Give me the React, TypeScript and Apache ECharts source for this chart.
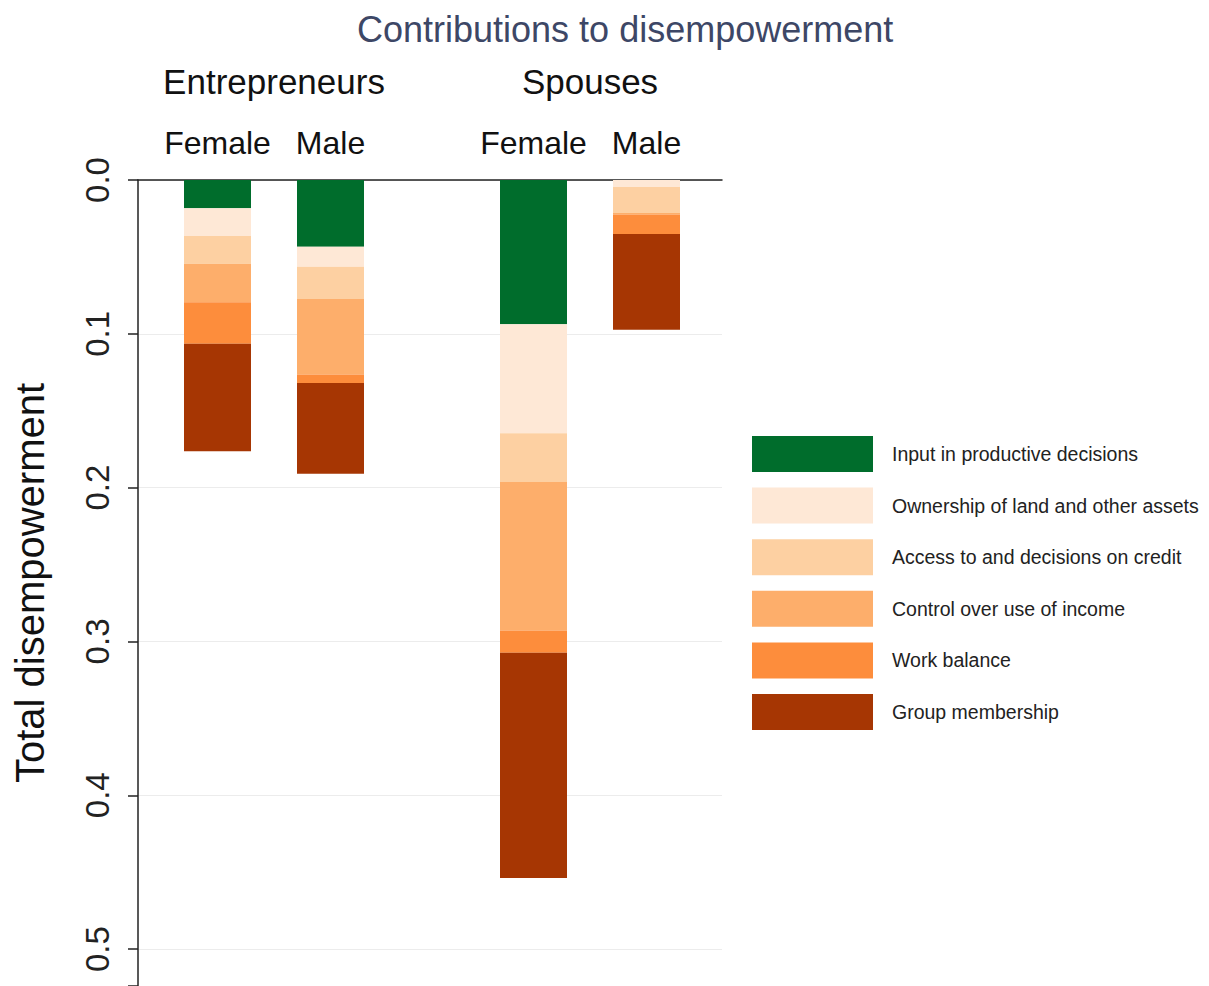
import React, { useEffect, useRef } from "react";
import * as echarts from "echarts";

const chartTitle = "Contributions to disempowerment";
const groups = ["Entrepreneurs", "Spouses"];
const sexes = ["Female", "Male"];
const dimensions = [
  "Input in productive decisions",
  "Ownership of land and other assets",
  "Access to and decisions on credit",
  "Control over use of income",
  "Work balance",
  "Group membership",
];
const dimColors = ["#006d2c", "#fee8d6", "#fdd0a2", "#fdae6b", "#fd8d3c", "#a63603"];

// contributions per dimension, order as in `dimensions`
const entrepreneursFemale = [0.0184, 0.018, 0.018, 0.025, 0.027, 0.07];
const entrepreneursMale = [0.0434, 0.013, 0.021, 0.049, 0.0055, 0.059];
const spousesFemale = [0.0937, 0.071, 0.0316, 0.0966, 0.0144, 0.1465];
const spousesMale = [0, 0.0045, 0.017, 0.001, 0.0126, 0.0622];

const yTicks = [0, 0.1, 0.2, 0.3, 0.4, 0.5];
const yMax = 0.524;
const yName = "Total disempowerment";

const FONT = "'Liberation Sans', Arial, Helvetica, sans-serif";

export default function App() {
  const ref = useRef<HTMLDivElement>(null);
  useEffect(() => {
    if (!ref.current) return;
    const chart = echarts.init(ref.current, null, { renderer: "svg" });
    const groupData = [
      [entrepreneursFemale, entrepreneursMale],
      [spousesFemale, spousesMale],
    ];
    const series: any[] = [];
    groupData.forEach((gd, g) => {
      dimensions.forEach((name, k) => {
        series.push({
          type: "bar",
          name,
          stack: "s" + g,
          xAxisIndex: g + 1,
          yAxisIndex: g + 1,
          barWidth: 67,
          itemStyle: { color: dimColors[k] },
          data: gd.map((arr) => arr[k]),
          emphasis: { disabled: true },
        });
      });
    });
    const hiddenY = (idx: number) => ({
      type: "value",
      gridIndex: idx,
      inverse: true,
      min: 0,
      max: yMax,
      interval: 0.1,
      show: false,
    });
    const groupX = (idx: number) => ({
      type: "category",
      gridIndex: idx,
      position: "top",
      data: sexes,
      axisLine: { show: false },
      axisTick: { show: false },
      splitLine: { show: false },
      axisLabel: {
        fontSize: 32,
        color: "#111",
        fontFamily: FONT,
        margin: 21,
        interval: 0,
        hideOverlap: false,
      },
      name: groups[idx - 1],
      nameLocation: "middle",
      nameGap: 81,
      nameMoveOverlap: false,
      nameTextStyle: { fontSize: 35, color: "#111", fontFamily: FONT },
    });
    chart.setOption({
      animation: false,
      title: {
        text: chartTitle,
        left: 357,
        top: 11,
        padding: 0,
        textStyle: { fontSize: 36, fontWeight: "normal", color: "#3d4766", fontFamily: FONT },
      },
      legend: {
        orient: "vertical",
        left: 752,
        top: 436,
        padding: 0,
        itemWidth: 121,
        itemHeight: 36,
        itemGap: 15.6,
        icon: "rect",
        selectedMode: false,
        data: dimensions,
        textStyle: { fontSize: 19.5, color: "#222", fontFamily: FONT, padding: [0, 0, 0, 14] },
      },
      grid: [
        { left: 138, right: 487, top: 180, bottom: 0, outerBoundsMode: "none", containLabel: false },
        { left: 161, width: 226, top: 180, bottom: 0, outerBoundsMode: "none", containLabel: false },
        { left: 477, width: 226, top: 180, bottom: 0, outerBoundsMode: "none", containLabel: false },
      ],
      xAxis: [
        {
          type: "value",
          gridIndex: 0,
          position: "top",
          min: 0,
          max: 1,
          axisLine: { show: true, onZero: false, lineStyle: { color: "#222", width: 1.5 } },
          axisTick: { show: false },
          axisLabel: { show: false },
          splitLine: { show: false },
        },
        groupX(1),
        groupX(2),
      ],
      yAxis: [
        {
          type: "value",
          gridIndex: 0,
          inverse: true,
          min: 0,
          max: yMax,
          interval: 0.1,
          axisLine: { show: true, lineStyle: { color: "#222", width: 1.5 } },
          axisTick: { show: true, length: 10, lineStyle: { color: "#222", width: 1.5 } },
          axisLabel: {
            rotate: 90,
            fontSize: 33,
            color: "#222",
            fontFamily: FONT,
            margin: 24,
            formatter: (v: number) => {
              const t = yTicks.find((x) => Math.abs(x - v) < 1e-6);
              return t === undefined ? "" : t.toFixed(1);
            },
          },
          splitLine: { show: true, lineStyle: { color: "#ececec", width: 1 } },
          name: yName,
          nameLocation: "middle",
          nameGap: 88,
          nameMoveOverlap: false,
          nameTextStyle: { fontSize: 40, color: "#111", fontFamily: FONT },
        },
        hiddenY(1),
        hiddenY(2),
      ],
      series,
    });
    return () => chart.dispose();
  }, []);
  return (
    <div
      ref={ref}
      style={{ position: "fixed", left: 0, top: 0, width: 1209, height: 986, background: "#fff" }}
    />
  );
}
